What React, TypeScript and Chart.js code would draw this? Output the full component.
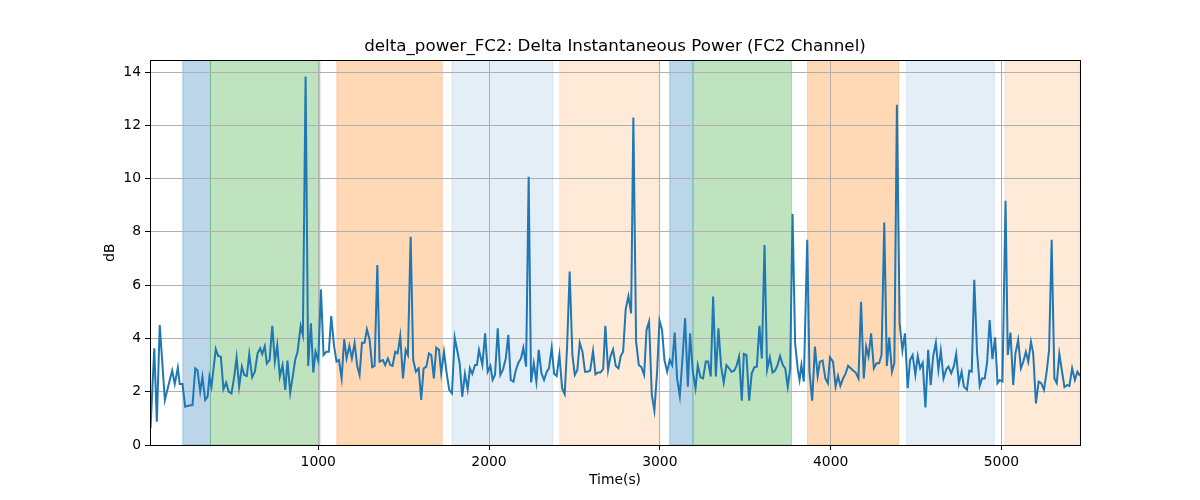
import { useEffect, useRef } from "react";
import { Chart, registerables } from "chart.js";

Chart.register(...registerables);

// Time stamps (s) of each sample
const times = [
  18, 40, 55, 72, 102, 121, 145, 160, 178, 189, 205, 221, 244, 264, 280, 293,
  309, 322, 338, 352, 363, 375, 400, 414, 430, 445, 461, 476, 492, 508, 522,
  537, 553, 567, 582, 596, 613, 629, 645, 660, 672, 687, 699,
  715, 731, 746, 760, 775, 791, 807, 820, 836, 852, 865, 879, 897, 910, 926,
  941, 957, 971, 984, 1000, 1016, 1031, 1047, 1062, 1076, 1092, 1107, 1121,
  1137, 1152, 1166, 1182, 1197, 1213, 1228, 1242, 1256, 1271, 1285, 1301,
  1316, 1330, 1346, 1359, 1379, 1392, 1408, 1422, 1435, 1451, 1465, 1480,
  1496, 1512, 1525, 1541, 1556, 1572, 1588, 1603, 1617, 1633, 1648, 1662,
  1677, 1691, 1707, 1720, 1736, 1752, 1767, 1783, 1799, 1828, 1843, 1859,
  1875, 1888, 1902, 1918, 1929, 1941,
  1961, 1977, 1992, 2008, 2021, 2035, 2051, 2066, 2082, 2098, 2113, 2127,
  2143, 2156, 2172, 2187, 2201, 2217, 2232, 2246, 2262, 2277, 2291, 2307,
  2322, 2338, 2351, 2367, 2381, 2396, 2412, 2428, 2443, 2457, 2472, 2488,
  2502, 2517, 2531, 2547, 2562, 2578, 2592, 2609, 2623, 2638, 2652, 2668,
  2681, 2697, 2711, 2726, 2742, 2758, 2771, 2785, 2800, 2816, 2832, 2845,
  2861, 2877, 2892, 2908, 2922, 2937, 2953, 2968, 2984, 2998, 3013, 3027,
  3043, 3058, 3072, 3087, 3101, 3117, 3132, 3148, 3164, 3177, 3193, 3209,
  3222, 3238, 3253, 3269, 3283, 3298, 3312, 3328, 3343, 3359, 3374, 3390,
  3406, 3419, 3435, 3449, 3464, 3480, 3492, 3507, 3523, 3538, 3554, 3568,
  3583, 3597, 3613, 3628, 3644, 3660, 3675, 3689, 3704, 3720, 3734, 3749,
  3763, 3777, 3792, 3808,
  3818, 3829, 3843, 3863, 3876, 3892, 3908, 3924, 3937, 3953, 3969, 3984,
  3996, 4014, 4029, 4043, 4057, 4073, 4088, 4102, 4118, 4133, 4147, 4163,
  4178, 4194, 4208, 4222, 4237, 4253, 4269, 4284, 4298, 4314, 4329, 4343,
  4359, 4373, 4388, 4404, 4420, 4435, 4451, 4465, 4480, 4496, 4510, 4524,
  4539, 4555, 4571, 4586, 4600, 4616, 4631, 4645, 4661, 4677, 4690, 4706,
  4722, 4735, 4751, 4767, 4780, 4798, 4812, 4826, 4841, 4857, 4873, 4886,
  4902, 4916, 4931, 4947, 4963, 4977, 4990, 5006, 5024, 5037, 5053, 5069,
  5082, 5098, 5114, 5128, 5143, 5157, 5173, 5186, 5202, 5218, 5233, 5249,
  5265, 5279, 5294, 5310, 5324, 5339, 5355, 5369, 5384, 5398, 5414, 5430,
  5445, 5460,
];

// delta power, dB
const deltaPower = [
  0.63, 3.63, 0.87, 4.5, 1.69, 2.19, 2.79, 2.29, 2.9, 2.29, 2.29, 1.44, 1.48,
  1.5, 2.88, 2.81, 2.0, 2.56, 1.69, 1.81, 2.56, 2.19, 3.6, 3.34, 3.31, 2.09,
  2.34, 2.0, 1.94, 2.56, 3.29, 2.19, 2.94, 2.63, 2.59, 3.41, 2.54, 2.75, 3.44,
  3.63, 3.41, 3.71, 3.06,
  3.19, 4.47, 3.13, 3.75, 2.57, 3.0, 2.07, 3.17, 1.96, 2.63, 3.19, 3.5, 4.47,
  4.13, 13.83, 2.97, 4.57, 2.72, 3.5, 3.17, 5.84, 3.38, 3.5, 3.5, 4.84, 3.75,
  3.13, 3.19, 2.5, 3.97, 3.25, 3.72, 3.25, 3.82, 2.97, 2.63, 3.84, 3.84, 4.34,
  3.94, 2.92, 2.97, 6.76, 3.13, 3.19, 3.0, 3.25, 3.0, 2.97, 3.5, 3.44, 4.09,
  2.5, 3.57, 3.38, 7.82, 3.19, 2.75, 2.88, 1.69, 2.88, 2.94, 3.44, 3.38, 2.5,
  3.65, 3.57, 2.69, 3.5, 2.69, 2.07, 1.94, 4.03, 3.07, 1.81, 2.67, 2.09, 2.88,
  2.67, 3.0, 3.0, 3.57,
  3.0, 4.19, 2.75, 2.97, 2.44, 2.63, 4.38, 2.63, 2.84, 3.25, 4.13, 2.44, 2.38,
  2.79, 3.09, 3.25, 3.65, 2.94, 10.07, 2.35, 3.07, 2.38, 3.57, 2.69, 2.44,
  2.75, 2.88, 3.65, 2.67, 2.59, 3.38, 2.13, 1.91, 3.69, 6.51, 3.38, 2.63, 2.82,
  3.84, 3.5, 2.75, 2.75, 2.79, 3.53, 2.65, 2.72, 2.72, 2.85, 4.47, 2.82, 3.32,
  3.59, 2.97, 2.88, 3.34, 3.5, 5.09, 5.59, 4.94, 12.29, 3.88, 3.0, 2.92, 2.63,
  4.32, 4.63, 1.88, 1.29, 2.75, 4.67, 4.32, 3.19, 2.75, 3.19, 3.0, 4.22, 2.5,
  1.84, 3.19, 4.76, 2.19, 4.19, 2.75, 2.13, 3.0, 2.54, 2.5, 3.13, 3.13, 2.57,
  5.57, 2.57, 4.38, 2.94, 2.34, 3.0, 2.88, 2.75, 2.79, 2.97, 3.32, 1.66, 3.42,
  3.38, 1.66, 2.69, 2.92, 2.94, 4.47, 3.25, 7.51, 2.82, 3.29, 2.72, 2.79, 3.0,
  3.34, 3.0, 2.88, 2.19, 2.84, 8.67, 3.82, 2.82,
  2.44, 3.0, 2.38, 7.7, 2.75, 1.66, 3.69, 2.59, 3.13, 3.17, 2.5, 2.32, 3.29,
  3.13, 2.19, 2.59, 2.22, 2.5, 2.69, 2.97, 2.88, 2.79, 2.72, 2.5, 5.38, 2.5,
  3.69, 3.32, 4.19, 2.88, 3.07, 3.07, 3.38, 8.35, 2.97, 4.04, 2.75, 3.07,
  12.77, 4.57, 3.54, 4.19, 2.13, 3.19, 3.38, 2.63, 3.34, 2.88, 3.09, 1.41,
  3.57, 2.25, 3.32, 3.84, 2.82, 3.54, 2.5, 2.84, 2.94, 2.69, 2.97, 3.42, 2.32,
  2.75, 2.19, 2.07, 2.79, 2.75, 6.2, 3.5, 2.22, 2.5, 2.5, 3.09, 4.69, 3.22,
  4.04, 2.32, 2.44, 2.38, 9.17, 3.38, 4.22, 2.25, 3.44, 3.94, 2.88, 3.13, 3.5,
  3.13, 3.88, 3.44, 1.56, 2.38, 2.32, 2.07, 2.75, 3.57, 7.7, 2.5, 2.32, 3.42,
  2.75, 2.17, 2.25, 2.22, 2.88, 2.44, 2.75, 2.59,
];

// Shaded condition intervals (s)
const bandStarts = [207, 369, 1109, 1783, 2414, 3058, 3194, 3865, 4445, 5021];
const bandEnds = [369, 1010, 1726, 2373, 2998, 3194, 3771, 4398, 4958, 5460];
const bandKinds = [
  "blue", "green", "orange", "paleBlue", "paleOrange",
  "blue", "green", "orange", "paleBlue", "paleOrange",
];

const xTickValues = [1000, 2000, 3000, 4000, 5000];
const yTickValues = [0, 2, 4, 6, 8, 10, 12, 14];

const bandColors: Record<string, string> = {
  blue: "rgba(31, 119, 180, 0.3)",
  green: "rgba(44, 160, 44, 0.3)",
  orange: "rgba(255, 127, 14, 0.3)",
  paleBlue: "rgba(31, 119, 180, 0.12)",
  paleOrange: "rgba(255, 127, 14, 0.16)",
};

const FONT = "'DejaVu Sans', sans-serif";

const bandsPlugin = {
  id: "bands",
  beforeDraw(chart: Chart) {
    const { ctx, chartArea, scales } = chart;
    const x = scales.x;
    ctx.save();
    ctx.beginPath();
    ctx.rect(chartArea.left, chartArea.top, chartArea.width, chartArea.height);
    ctx.clip();
    bandStarts.forEach((start, i) => {
      const x0 = x.getPixelForValue(start);
      const x1 = x.getPixelForValue(bandEnds[i]);
      ctx.fillStyle = bandColors[bandKinds[i]];
      ctx.fillRect(x0, chartArea.top, x1 - x0, chartArea.height);
      ctx.strokeStyle = bandColors[bandKinds[i]];
      ctx.lineWidth = 1;
      ctx.strokeRect(x0, chartArea.top, x1 - x0, chartArea.height);
    });
    ctx.restore();
  },
  afterDraw(chart: Chart) {
    const { ctx, chartArea } = chart;
    ctx.save();
    ctx.strokeStyle = "#000";
    ctx.lineWidth = 1;
    ctx.strokeRect(
      Math.round(chartArea.left) + 0.5,
      Math.round(chartArea.top) + 0.5,
      Math.round(chartArea.width),
      Math.round(chartArea.height)
    );
    ctx.restore();
  },
};

export default function App() {
  const canvasRef = useRef<HTMLCanvasElement | null>(null);
  const chartRef = useRef<Chart | null>(null);

  useEffect(() => {
    const ctx = canvasRef.current?.getContext("2d");
    if (!ctx) return;

    Chart.defaults.font.family = FONT;

    chartRef.current = new Chart(ctx, {
      type: "line",
      data: {
        datasets: [
          {
            label: "delta_power_FC2",
            data: times.map((t, i) => ({ x: t, y: deltaPower[i] })),
            borderColor: "#1f77b4",
            borderWidth: 2,
            pointRadius: 0,
            tension: 0,
            fill: false,
          },
        ],
      },
      options: {
        responsive: false,
        animation: false,
        devicePixelRatio: 1,
        layout: { padding: { left: 0, right: 120, top: 0, bottom: 0 } },
        plugins: {
          legend: { display: false },
          tooltip: { enabled: false },
          title: {
            display: true,
            fullSize: false,
            text: "delta_power_FC2: Delta Instantaneous Power (FC2 Channel)",
            color: "#000",
            font: { family: FONT, size: 16.7, weight: "normal" },
            padding: { top: 37, bottom: 3 },
          },
        },
        scales: {
          x: {
            type: "linear",
            min: 15,
            max: 5460,
            afterBuildTicks: (s: any) => {
              s.ticks = xTickValues.map((v) => ({ value: v }));
            },
            afterFit: (s: any) => {
              s.height = 55;
            },
            ticks: {
              color: "#000",
              font: { family: FONT, size: 13.9 },
              padding: 4,
              maxRotation: 0,
              autoSkip: false,
              callback: (v: any) => String(v),
            },
            grid: {
              color: "#b0b0b0",
              lineWidth: 1,
              tickColor: "#000",
              tickLength: 5,
            },
            border: { display: false },
            title: {
              display: true,
              text: "Time(s)",
              color: "#000",
              font: { family: FONT, size: 13.9 },
              padding: { top: 0, bottom: 11 },
            },
          },
          y: {
            type: "linear",
            min: 0,
            max: 14.45,
            afterBuildTicks: (s: any) => {
              s.ticks = yTickValues.map((v) => ({ value: v }));
            },
            afterFit: (s: any) => {
              s.width = 150;
            },
            ticks: {
              color: "#000",
              font: { family: FONT, size: 13.9 },
              padding: 4,
              autoSkip: false,
              callback: (v: any) => String(v),
            },
            grid: {
              color: "#b0b0b0",
              lineWidth: 1,
              tickColor: "#000",
              tickLength: 5,
            },
            border: { display: false },
            title: {
              display: true,
              text: "dB",
              color: "#000",
              font: { family: FONT, size: 13.9 },
              padding: { top: 102, bottom: 0 },
            },
          },
        },
      },
      plugins: [bandsPlugin],
    });

    return () => {
      chartRef.current?.destroy();
      chartRef.current = null;
    };
  }, []);

  return (
    <div
      style={{
        position: "absolute",
        left: 0,
        top: 0,
        width: 1200,
        height: 500,
        background: "#fff",
      }}
    >
      <canvas ref={canvasRef} width={1200} height={500} />
    </div>
  );
}
